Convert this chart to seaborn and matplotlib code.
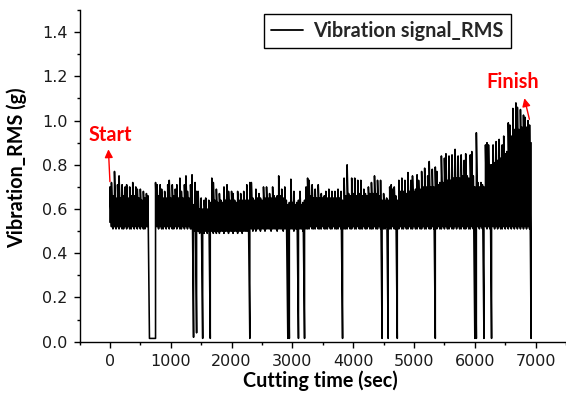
import numpy as np
import pandas as pd
import matplotlib
matplotlib.use("Agg")
import matplotlib.pyplot as plt
import seaborn as sns
from matplotlib.ticker import MultipleLocator

# ---------------- data ----------------
sample_step_s = 25  # one reading every 25 s, first reading at t = 0

# upper value of the RMS signal in each 25 s sample
rms_high = [
    0.70, 0.72, 0.66, 0.77, 0.65, 0.71, 0.75, 0.65, 0.71, 0.66,
    0.70, 0.71, 0.65, 0.70, 0.66, 0.72, 0.66, 0.70, 0.69, 0.65,
    0.69, 0.64, 0.68, 0.65, 0.67, 0.66, 0.015, 0.015, 0.015, 0.015,
    0.72, 0.71, 0.66, 0.71, 0.69, 0.65, 0.68, 0.65, 0.71, 0.73,
    0.65, 0.71, 0.66, 0.69, 0.71, 0.65, 0.74, 0.68, 0.65, 0.71,
    0.75, 0.68, 0.65, 0.71, 0.755, 0.62, 0.72, 0.68, 0.68, 0.60,
    0.65, 0.60, 0.64, 0.65, 0.60, 0.64, 0.63, 0.74, 0.72, 0.64,
    0.69, 0.63, 0.67, 0.64, 0.63, 0.70, 0.64, 0.71, 0.68, 0.64,
    0.68, 0.67, 0.64, 0.63, 0.68, 0.64, 0.67, 0.64, 0.68, 0.64,
    0.71, 0.64, 0.72, 0.72, 0.65, 0.64, 0.69, 0.65, 0.67, 0.65,
    0.64, 0.70, 0.65, 0.70, 0.65, 0.67, 0.65, 0.70, 0.66, 0.65,
    0.66, 0.75, 0.66, 0.69, 0.65, 0.70, 0.64, 0.62, 0.63, 0.735,
    0.63, 0.68, 0.62, 0.63, 0.64, 0.68, 0.62, 0.63, 0.64, 0.70,
    0.74, 0.73, 0.66, 0.71, 0.65, 0.69, 0.65, 0.71, 0.65, 0.67,
    0.65, 0.66, 0.68, 0.65, 0.69, 0.65, 0.68, 0.65, 0.68, 0.65,
    0.69, 0.65, 0.68, 0.64, 0.74, 0.66, 0.80, 0.67, 0.66, 0.74,
    0.67, 0.74, 0.66, 0.73, 0.67, 0.73, 0.66, 0.69, 0.67, 0.66,
    0.70, 0.67, 0.72, 0.67, 0.75, 0.67, 0.73, 0.66, 0.73, 0.64,
    0.67, 0.64, 0.65, 0.64, 0.70, 0.71, 0.69, 0.70, 0.66, 0.64,
    0.73, 0.68, 0.74, 0.68, 0.73, 0.67, 0.765, 0.68, 0.73, 0.75,
    0.68, 0.69, 0.755, 0.73, 0.69, 0.77, 0.70, 0.785, 0.70, 0.75,
    0.815, 0.70, 0.78, 0.70, 0.79, 0.77, 0.71, 0.72, 0.84, 0.72,
    0.83, 0.85, 0.73, 0.84, 0.73, 0.845, 0.74, 0.87, 0.74, 0.84,
    0.74, 0.845, 0.75, 0.82, 0.85, 0.75, 0.74, 0.845, 0.86, 0.75,
    0.70, 0.945, 0.72, 0.70, 0.72, 0.71, 0.70, 0.89, 0.90, 0.89,
    0.80, 0.80, 0.89, 0.81, 0.905, 0.82, 0.915, 0.83, 0.89, 0.93,
    0.85, 0.86, 0.99, 0.98, 0.93, 1.055, 0.96, 1.08, 1.06, 0.96,
    1.05, 0.97, 1.025, 1.015, 0.97, 1.00, 0.98, 0.90,
]

# lower value of the RMS signal in each 25 s sample (0.015 = machine stop)
rms_low = [
    0.54, 0.52, 0.51, 0.52, 0.51, 0.52, 0.51, 0.52, 0.51, 0.51,
    0.52, 0.51, 0.52, 0.51, 0.51, 0.52, 0.51, 0.52, 0.51, 0.52,
    0.51, 0.52, 0.51, 0.51, 0.52, 0.52, 0.015, 0.015, 0.015, 0.015,
    0.015, 0.52, 0.51, 0.52, 0.51, 0.51, 0.52, 0.51, 0.52, 0.51,
    0.52, 0.51, 0.51, 0.52, 0.51, 0.52, 0.51, 0.51, 0.52, 0.51,
    0.52, 0.51, 0.52, 0.51, 0.51, 0.02, 0.50, 0.04, 0.50, 0.49,
    0.50, 0.015, 0.49, 0.50, 0.49, 0.50, 0.015, 0.50, 0.49, 0.50,
    0.49, 0.50, 0.49, 0.50, 0.50, 0.49, 0.50, 0.50, 0.49, 0.50,
    0.50, 0.49, 0.50, 0.50, 0.49, 0.50, 0.50, 0.49, 0.50, 0.50,
    0.50, 0.50, 0.015, 0.51, 0.50, 0.51, 0.50, 0.51, 0.51, 0.50,
    0.51, 0.51, 0.50, 0.51, 0.51, 0.51, 0.50, 0.51, 0.51, 0.51,
    0.50, 0.51, 0.51, 0.51, 0.50, 0.51, 0.51, 0.015, 0.015, 0.51,
    0.51, 0.50, 0.51, 0.51, 0.015, 0.51, 0.51, 0.50, 0.015, 0.51,
    0.51, 0.51, 0.52, 0.51, 0.51, 0.51, 0.52, 0.51, 0.51, 0.51,
    0.52, 0.51, 0.51, 0.51, 0.52, 0.51, 0.51, 0.52, 0.51, 0.51,
    0.51, 0.52, 0.51, 0.015, 0.51, 0.51, 0.51, 0.52, 0.51, 0.51,
    0.52, 0.51, 0.51, 0.52, 0.51, 0.51, 0.51, 0.52, 0.51, 0.51,
    0.52, 0.51, 0.51, 0.51, 0.52, 0.51, 0.51, 0.52, 0.51, 0.015,
    0.51, 0.51, 0.52, 0.015, 0.51, 0.51, 0.52, 0.51, 0.51, 0.015,
    0.51, 0.52, 0.51, 0.51, 0.52, 0.51, 0.51, 0.52, 0.51, 0.51,
    0.52, 0.51, 0.51, 0.52, 0.51, 0.51, 0.52, 0.51, 0.51, 0.52,
    0.51, 0.51, 0.52, 0.51, 0.015, 0.51, 0.52, 0.51, 0.51, 0.52,
    0.51, 0.52, 0.51, 0.51, 0.52, 0.51, 0.51, 0.52, 0.51, 0.52,
    0.51, 0.51, 0.52, 0.51, 0.51, 0.52, 0.51, 0.51, 0.52, 0.51,
    0.015, 0.015, 0.52, 0.51, 0.52, 0.51, 0.015, 0.52, 0.51, 0.52,
    0.51, 0.015, 0.52, 0.51, 0.52, 0.51, 0.52, 0.51, 0.51, 0.52,
    0.51, 0.52, 0.51, 0.52, 0.51, 0.52, 0.51, 0.52, 0.51, 0.52,
    0.51, 0.52, 0.51, 0.52, 0.51, 0.52, 0.51, 0.015,
]

time_s = np.arange(len(rms_high)) * sample_step_s

x_ticks = [0, 1000, 2000, 3000, 4000, 5000, 6000, 7000]
x_tick_labels = ["0", "1000", "2000", "3000", "4000", "5000", "6000", "7000"]
y_ticks = [0.0, 0.2, 0.4, 0.6, 0.8, 1.0, 1.2, 1.4]
y_tick_labels = ["0.0", "0.2", "0.4", "0.6", "0.8", "1.0", "1.2", "1.4"]

series_name = "Vibration signal_RMS"
x_title = "Cutting time (sec)"
y_title = "Vibration_RMS (g)"

# ---------------- build long table ----------------
df = pd.DataFrame({
    x_title: np.repeat(time_s, 2),
    y_title: np.column_stack([rms_low, rms_high]).ravel(),
})

# ---------------- plot ----------------
sns.set_theme(style="ticks")
plt.rcParams["font.family"] = ["DejaVu Sans"]
plt.rcParams["axes.edgecolor"] = "black"
plt.rcParams["axes.linewidth"] = 1.0

fig = plt.figure(figsize=(5.66, 3.94), dpi=100)
ax = fig.add_axes([0.1405, 0.1327, 0.8596, 0.8419])

sns.lineplot(data=df, x=x_title, y=y_title, sort=False, estimator=None,
             color="black", linewidth=1.15, label=series_name, ax=ax)

ax.set_xlim(-500, 7500)
ax.set_ylim(0, 1.5)
ax.set_xticks(x_ticks)
ax.set_xticklabels(x_tick_labels)
ax.set_yticks(y_ticks)
ax.set_yticklabels(y_tick_labels)
ax.xaxis.set_minor_locator(MultipleLocator(500))
ax.yaxis.set_minor_locator(MultipleLocator(0.1))
ax.tick_params(which="major", direction="out", length=4.5, width=1.0,
               color="black", labelsize=11.5, labelcolor="#1a1a1a", pad=4)
ax.tick_params(which="minor", direction="out", length=2.5, width=1.0, color="black")
sns.despine(ax=ax)
ax.spines["left"].set_color("black")
ax.spines["bottom"].set_color("black")

label_font = {"family": ["Lato", "DejaVu Sans"], "weight": "bold", "size": 14.2}
ax.set_xlabel(x_title, fontdict=label_font, color="black")
ax.set_ylabel(y_title, fontdict=label_font, color="black")
ax.xaxis.set_label_coords(0.495, -0.088)
ax.yaxis.set_label_coords(-0.108, 0.524)

leg = ax.legend(loc="upper left", bbox_to_anchor=(0.379, 0.988), borderaxespad=0,
                frameon=True, fancybox=False, edgecolor="black", framealpha=1,
                prop={"family": ["Lato", "DejaVu Sans"], "weight": "bold", "size": 14.3},
                handlelength=1.6, handletextpad=0.55, borderpad=0.35)
leg.get_frame().set_linewidth(1.0)
for ln in leg.get_lines():
    ln.set_linewidth(1.3)

# annotations
ann_font = {"family": ["Lato", "DejaVu Sans"], "weight": "bold", "size": 14.3}
ax.annotate("", xy=(-25, 0.87), xytext=(0, 0.724),
            arrowprops=dict(arrowstyle="-|>", color="red", lw=1.0,
                            mutation_scale=12, shrinkA=0, shrinkB=0))
ax.text(3, 0.935, "Start", color="red", ha="center", va="center", fontdict=ann_font)
ax.annotate("", xy=(6815, 1.101), xytext=(6897, 1.006),
            arrowprops=dict(arrowstyle="-|>", color="red", lw=1.0,
                            mutation_scale=12, shrinkA=0, shrinkB=0))
ax.text(6626, 1.173, "Finish", color="red", ha="center", va="center", fontdict=ann_font)

fig.savefig("out.png", dpi=100, facecolor="white")
